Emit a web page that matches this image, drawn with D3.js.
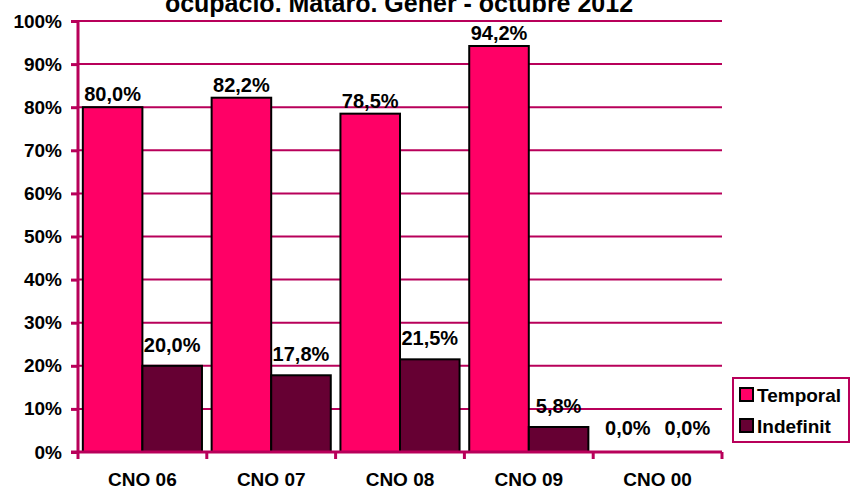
<!DOCTYPE html>
<html>
<head>
<meta charset="utf-8">
<script src="https://cdn.jsdelivr.net/npm/d3@7"></script>
<style>
  body { margin: 0; background: #fff; }
  svg { display: block; font-family: Arial, "Liberation Sans", sans-serif; }
</style>
</head>
<body>
<svg id="chart" width="851" height="490"></svg>
<script>
// Contract type share by occupation group (CNO)
const categories = ["CNO 06", "CNO 07", "CNO 08", "CNO 09", "CNO 00"];
const temporal   = [80.0, 82.2, 78.5, 94.2, 0.0];
const indefinit  = [20.0, 17.8, 21.5, 5.8, 0.0];
const seriesNames = ["Temporal", "Indefinit"];
const seriesColors = ["#FF0066", "#660033"];
const yTicks = [0, 10, 20, 30, 40, 50, 60, 70, 80, 90, 100];
const titleText = "ocupació. Mataró. Gener - octubre 2012";

const series = [temporal, indefinit];
const labelGap = [6, 14];        // distance of value labels above each series' bars
const axisColor = "#B8005A";
const FONT = "Arial, 'Liberation Sans', sans-serif";

const svg = d3.select("#chart");
const margin = { left: 78, right: 129, top: 21, bottom: 38 };
const W = 851, H = 490;

const x = d3.scaleBand().domain(categories)
  .range([margin.left, W - margin.right]).paddingInner(0.075).paddingOuter(0.0375);
const xs = d3.scaleBand().domain(seriesNames).range([0, x.bandwidth()]);
const y = d3.scaleLinear().domain([0, 100]).range([H - margin.bottom, margin.top]);

// Title (first line runs above the visible area)
svg.append("text")
  .attr("x", 399).attr("y", 12)
  .attr("text-anchor", "middle")
  .attr("font-weight", "bold").attr("font-size", 25)
  .text(titleText);

// Horizontal gridlines
svg.append("g").selectAll("line").data(yTicks.filter(d => d > 0)).join("line")
  .attr("x1", margin.left).attr("x2", W - margin.right)
  .attr("y1", d => y(d)).attr("y2", d => y(d))
  .attr("stroke", axisColor).attr("stroke-width", 2);

// Bars and value labels
const fmt = v => d3.format(".1f")(v).replace(".", ",") + "%";
const groups = svg.append("g").selectAll("g").data(categories).join("g")
  .attr("transform", d => `translate(${x(d)},0)`);

groups.each(function(cat, i) {
  const g = d3.select(this);
  seriesNames.forEach((s, j) => {
    const v = series[j][i];
    if (v > 0) {
      g.append("rect")
        .attr("x", xs(s)).attr("width", xs.bandwidth())
        .attr("y", y(v)).attr("height", y(0) - y(v))
        .attr("fill", seriesColors[j])
        .attr("stroke", "#000").attr("stroke-width", 2);
    }
    g.append("text")
      .attr("x", xs(s) + xs.bandwidth() / 2)
      .attr("y", Math.min(y(v) - labelGap[j], y(0) - 17))
      .attr("text-anchor", "middle")
      .attr("font-weight", "bold").attr("font-size", 20)
      .text(fmt(v));
  });
});

// Y axis
const yAxis = d3.axisLeft(y).tickValues(yTicks).tickSize(7).tickPadding(9)
  .tickFormat(d => d + "%");
const gy = svg.append("g").attr("transform", `translate(${margin.left},0)`).call(yAxis);
gy.select(".domain").attr("stroke", axisColor).attr("stroke-width", 3)
  .attr("d", `M0,${y(100)}V${y(0)}`);
gy.selectAll(".tick line").attr("stroke", axisColor).attr("stroke-width", 3);
gy.selectAll(".tick text").attr("font-size", 19).attr("font-weight", "bold")
  .attr("fill", "#000").attr("font-family", FONT);

// X axis with tick marks at category boundaries
const gx = svg.append("g").attr("transform", `translate(0,${y(0)})`);
gx.append("line").attr("x1", margin.left - 7).attr("x2", W - margin.right)
  .attr("stroke", axisColor).attr("stroke-width", 3);
const bounds = categories.map(c => x(c) - x.step() * x.paddingInner() / 2)
  .concat([W - margin.right]);
gx.selectAll("line.tk").data(bounds).join("line").attr("class", "tk")
  .attr("x1", d => d).attr("x2", d => d).attr("y1", 0).attr("y2", 7)
  .attr("stroke", axisColor).attr("stroke-width", 3);
gx.selectAll("text").data(categories).join("text")
  .attr("x", d => x(d) + x.bandwidth() / 2).attr("y", 34)
  .attr("text-anchor", "middle")
  .attr("font-weight", "bold").attr("font-size", 19)
  .text(d => d);

// Legend
const lg = svg.append("g").attr("transform", "translate(733,378)");
lg.append("rect").attr("x", 0).attr("y", 0).attr("width", 116).attr("height", 64)
  .attr("fill", "#fff").attr("stroke", axisColor).attr("stroke-width", 2);
seriesNames.forEach((s, j) => {
  const yy = 17 + j * 31;
  lg.append("rect").attr("x", 7).attr("y", yy - 7).attr("width", 13).attr("height", 13)
    .attr("fill", seriesColors[j]).attr("stroke", "#000").attr("stroke-width", 2);
  lg.append("text").attr("x", 24).attr("y", yy + 7)
    .attr("font-weight", "bold").attr("font-size", 19).text(s);
});
</script>
</body>
</html>
